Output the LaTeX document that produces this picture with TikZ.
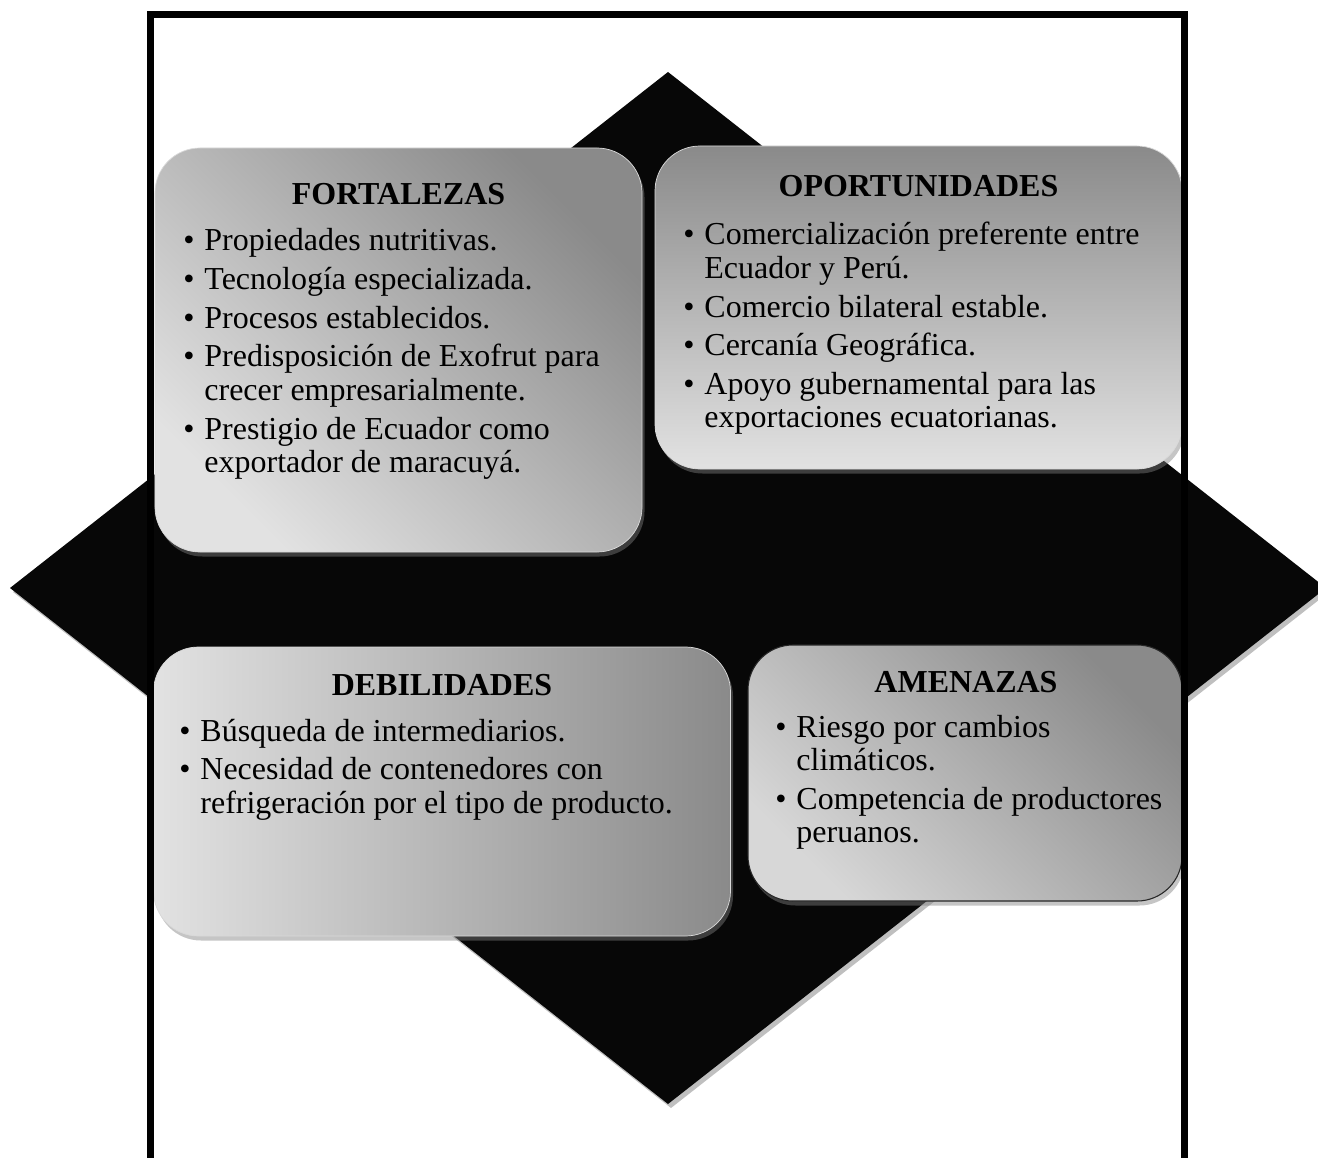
\documentclass[tikz,border=0pt]{standalone}
\usepackage{fontspec}
\setmainfont{Liberation Serif}
\usetikzlibrary{shadows}

\definecolor{diamblack}{HTML}{070707}
\definecolor{boxdark}{HTML}{8A8A8A}
\definecolor{boxlight}{HTML}{E2E2E2}

\newcommand{\bul}{\makebox[12pt][l]{\textbullet}}

\tikzset{
  swotbox/.style={rounded corners=9mm, inner sep=0pt, draw=white!70!gray, line width=0.4pt,
    drop shadow={shadow xshift=0.5mm, shadow yshift=-0.9mm, opacity=0.45}},
  swottitle/.style={anchor=base, inner sep=0pt, font=\fontsize{18.2pt}{19pt}\selectfont\bfseries},
  swottext/.style={anchor=base west, inner sep=0pt, font=\fontsize{18.2pt}{19pt}\selectfont},
}

\begin{document}
\begin{tikzpicture}[x=0.2mm, y=-0.2mm]

  \useasboundingbox (0,0) rectangle (1318,1158);
  \clip (0,0) rectangle (1318,1158);
  \fill[white] (0,0) rectangle (1318,1158);

  \fill[diamblack, drop shadow={shadow xshift=0.6mm, shadow yshift=-0.8mm, opacity=0.5}]
    (668,72) -- (1326,588) -- (668,1104) -- (10,588) -- cycle;

  \node[swotbox, minimum width=97.4mm, minimum height=80.8mm,
    top color=boxdark, bottom color=boxlight, shading angle=-45] (fort) at (398.5,350) {};
  \node[swottitle] (forttitle) at (398.5,205) {FORTALEZAS};
  \node[swottext] (forttext) at (183,251) {\begin{tabular}[t]{@{}l@{}l@{}}
    \bul & Propiedades nutritivas.\\[3pt]
    \bul & Tecnología especializada.\\[3pt]
    \bul & Procesos establecidos.\\[3pt]
    \bul & Predisposición de Exofrut para\\
         & crecer empresarialmente.\\[3pt]
    \bul & Prestigio de Ecuador como\\
         & exportador de maracuyá.
  \end{tabular}};

  \node[swotbox, minimum width=105.4mm, minimum height=64.6mm,
    top color=boxdark, bottom color=boxlight] (opor) at (918.5,307.5) {};
  \node[swottitle] (oportitle) at (918.5,197) {OPORTUNIDADES};
  \node[swottext] (oportext) at (683,245) {\begin{tabular}[t]{@{}l@{}l@{}}
    \bul & Comercialización preferente entre\\
         & Ecuador y Perú.\\[3pt]
    \bul & Comercio bilateral estable.\\[3pt]
    \bul & Cercanía Geográfica.\\[3pt]
    \bul & Apoyo gubernamental para las\\
         & exportaciones ecuatorianas.
  \end{tabular}};

  \node[swotbox, minimum width=115.4mm, minimum height=57.8mm,
    left color=boxlight, right color=boxdark] (debi) at (442,791.5) {};
  \node[swottitle] (debititle) at (442,695) {DEBILIDADES};
  \node[swottext] (debitext) at (179,741) {\begin{tabular}[t]{@{}l@{}l@{}}
    \bul & Búsqueda de intermediarios.\\[3pt]
    \bul & Necesidad de contenedores con\\
         & refrigeración por el tipo de producto.
  \end{tabular}};

  \node[swotbox, draw=black!85, line width=0.6pt, minimum width=86.8mm, minimum height=51.2mm,
    top color=boxdark, bottom color=boxlight!95!black, shading angle=-45] (amen) at (965,773) {};
  \node[swottitle] (amentitle) at (966,692) {AMENAZAS};
  \node[swottext] (amentext) at (775,737) {\begin{tabular}[t]{@{}l@{}l@{}}
    \bul & Riesgo por cambios\\
         & climáticos.\\[3pt]
    \bul & Competencia de productores\\
         & peruanos.
  \end{tabular}};

  \draw[line width=1.4mm] (150.5,14.5) rectangle (1184.5,1161.5);

\end{tikzpicture}
\end{document}
